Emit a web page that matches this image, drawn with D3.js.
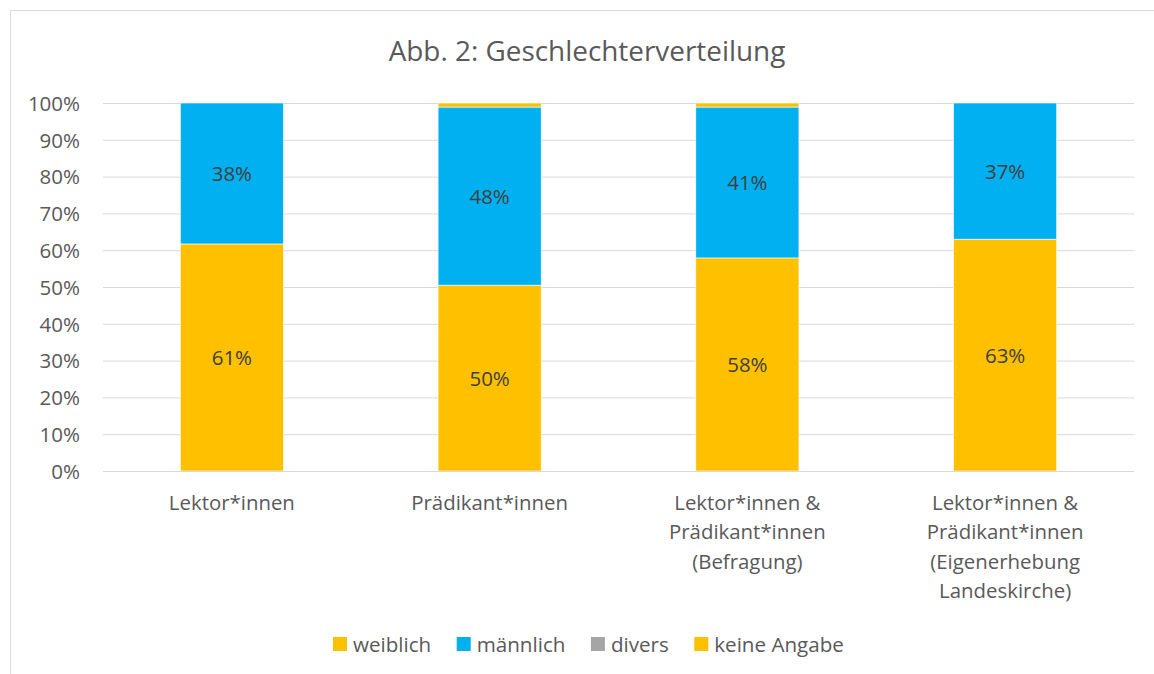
<!DOCTYPE html>
<html>
<head>
<meta charset="utf-8">
<script src="https://cdn.jsdelivr.net/npm/d3@7"></script>
<style>
  body { margin: 0; background: #fff; }
  svg { display: block; font-family: "Open Sans", sans-serif; }
</style>
</head>
<body>
<div id="chart"></div>
<script>
// Kategorien (mehrzeilig)
var kategorien = [
    ['Lektor*innen'],
    ['Prädikant*innen'],
    ['Lektor*innen &', 'Prädikant*innen', '(Befragung)'],
    ['Lektor*innen &', 'Prädikant*innen', '(Eigenerhebung', 'Landeskirche)']
];
var serien = ['weiblich', 'männlich', 'divers', 'keine Angabe'];
var farben = ['#FFC000', '#00B0F0', '#A5A5A5', '#FFC000'];

// Anteile pro Serie
var weiblich = [0.617, 0.505, 0.579, 0.630];
var maennlich = [0.383, 0.484, 0.410, 0.370];
var divers = [0, 0, 0, 0];
var keineAngabe = [0, 0.011, 0.011, 0];
// Beschriftungen wie im Original
var labelsWeiblich = ['61%', '50%', '58%', '63%'];
var labelsMaennlich = ['38%', '48%', '41%', '37%'];

var yTicks = [0, 0.1, 0.2, 0.3, 0.4, 0.5, 0.6, 0.7, 0.8, 0.9, 1];

var chart_width = 1154, chart_height = 674;
var schrift = '"Open Sans", sans-serif';
var svg = d3.select('#chart').append('svg')
    .attr('width', chart_width)
    .attr('height', chart_height);

// Rahmen
svg.append('rect')
    .attr('x', 10.5).attr('y', 10.5)
    .attr('width', chart_width + 20).attr('height', chart_height + 20)
    .attr('fill', '#fff').attr('stroke', '#D9D9D9').attr('stroke-width', 1);

// Titel
svg.append('text')
    .attr('x', 587).attr('y', 61)
    .attr('text-anchor', 'middle')
    .attr('font-size', 27.9)
    .attr('fill', '#595959')
    .text('Abb. 2: Geschlechterverteilung');

var plot = { left: 103, right: 1134, top: 103, bottom: 471 };

var scale_x = d3.scaleBand()
    .domain(d3.range(kategorien.length))
    .range([plot.left, plot.right])
    .paddingInner(0.6)
    .paddingOuter(0.3);

var scale_y = d3.scaleLinear()
    .domain([0, 1])
    .range([plot.bottom, plot.top]);

// Gitternetz + Y-Achse
var yAxis = svg.append('g')
    .attr('transform', 'translate(' + plot.left + ',0)')
    .call(d3.axisLeft(scale_y).tickValues(yTicks).tickFormat(d3.format('.0%'))
        .tickSize(-(plot.right - plot.left)).tickPadding(23));
yAxis.select('.domain').remove();
yAxis.selectAll('.tick line').attr('stroke', '#D9D9D9').attr('stroke-width', 1);
yAxis.selectAll('.tick text').attr('font-size', 20.5).attr('fill', '#595959')
    .attr('dy', '0.36em')
    .attr('font-family', schrift);

// Stapel
var daten = kategorien.map(function (k, i) {
    return { i: i, 'weiblich': weiblich[i], 'männlich': maennlich[i], 'divers': divers[i], 'keine Angabe': keineAngabe[i] };
});
var stack = d3.stack().keys(serien)(daten);

svg.append('g').selectAll('g')
    .data(stack)
    .join('g')
    .attr('fill', function (d, i) { return farben[i]; })
    .selectAll('rect')
    .data(function (d) { return d; })
    .join('rect')
    .attr('x', function (d) { return scale_x(d.data.i); })
    .attr('width', scale_x.bandwidth())
    .attr('y', function (d) { return scale_y(d[1]); })
    .attr('height', function (d) { return scale_y(d[0]) - scale_y(d[1]); })
    .attr('stroke', '#fff')
    .attr('stroke-width', function (d) { return d[1] - d[0] > 0 ? 0.6 : 0; });

// Datenbeschriftungen
[labelsWeiblich, labelsMaennlich].forEach(function (labels, s) {
    svg.append('g').selectAll('text')
        .data(stack[s])
        .join('text')
        .attr('x', function (d) { return scale_x(d.data.i) + scale_x.bandwidth() / 2; })
        .attr('y', function (d) { return scale_y((d[0] + d[1]) / 2) + 8; })
        .attr('text-anchor', 'middle')
        .attr('font-size', 20.5)
        .attr('fill', '#404040')
        .text(function (d, i) { return labels[i]; });
});

// X-Achse
svg.append('line')
    .attr('x1', plot.left).attr('x2', plot.right)
    .attr('y1', plot.bottom + 0.5).attr('y2', plot.bottom + 0.5)
    .attr('stroke', '#D9D9D9');

svg.append('g').selectAll('text')
    .data(kategorien)
    .join('text')
    .attr('text-anchor', 'middle')
    .attr('font-size', 20.4)
    .attr('fill', '#595959')
    .each(function (zeilen, i) {
        var t = d3.select(this);
        zeilen.forEach(function (z, j) {
            t.append('tspan')
                .attr('x', scale_x(i) + scale_x.bandwidth() / 2)
                .attr('y', 510 + j * 29.3)
                .text(z);
        });
    });

// Legende (fortlaufend gesetzt)
var legende = svg.append('g');
var lx = 333;
serien.forEach(function (name, i) {
    legende.append('rect')
        .attr('x', lx).attr('y', 637)
        .attr('width', 14).attr('height', 14)
        .attr('fill', farben[i]);
    var t = legende.append('text')
        .attr('x', lx + 20).attr('y', 652)
        .attr('font-size', 20.6)
        .attr('fill', '#595959')
        .text(name);
    lx += 20 + t.node().getComputedTextLength() + 25.5;
});
</script>
</body>
</html>
